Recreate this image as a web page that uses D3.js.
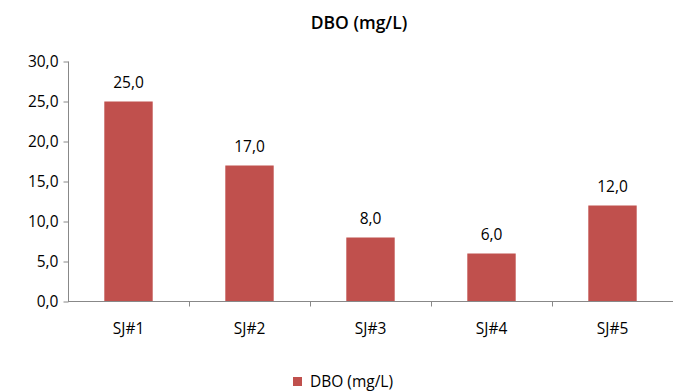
<!DOCTYPE html>
<html><head><meta charset="utf-8">
<script src="https://cdn.jsdelivr.net/npm/d3@7"></script>
<style>body{margin:0;background:#fff}svg{display:block}text{font-family:"Open Sans","Liberation Sans",sans-serif}</style>
</head><body>
<svg id="c" width="673" height="392"></svg>
<script>
const categories = ["SJ#1","SJ#2","SJ#3","SJ#4","SJ#5"];
const values = [25.0, 17.0, 8.0, 6.0, 12.0];
const yTicks = [0,5,10,15,20,25,30];
const seriesName = "DBO (mg/L)";
const title = "DBO (mg/L)";

const svg = d3.select("#c");
const fmt = v => d3.format(".1f")(v).replace(".", ",");
const x = d3.scaleBand().domain(categories).range([68, 673]).paddingInner(0.6).paddingOuter(0.3);
const y = d3.scaleLinear().domain([0,30]).range([301.5, 61.5]);
const color = "#C0504D";
const fs = 15.5;

svg.append("text").attr("x", 359).attr("y", 29).attr("text-anchor","middle")
  .attr("font-size", 17.5).attr("font-weight","600").attr("fill","#000").text(title);

const yAxis = svg.append("g").attr("transform","translate(68.5,0)")
  .call(d3.axisLeft(y).tickValues(yTicks).tickSize(5).tickFormat(fmt));
yAxis.select(".domain").attr("stroke","#888").attr("d","M0,61.5V301.5");
yAxis.selectAll(".tick line").attr("stroke","#888");
yAxis.selectAll(".tick text").attr("font-size",fs).attr("fill","#000").attr("x",-10).attr("dy","0.34em");

svg.selectAll("rect.bar").data(values).join("rect").attr("class","bar")
  .attr("x",(d,i)=>x(categories[i])).attr("width",x.bandwidth())
  .attr("y",d=>y(d)).attr("height",d=>y(0)-y(d)).attr("fill",color);

svg.selectAll("text.val").data(values).join("text").attr("class","val")
  .attr("x",(d,i)=>x(categories[i])+x.bandwidth()/2).attr("y",d=>y(d)-14)
  .attr("text-anchor","middle").attr("font-size",fs).attr("fill","#000").text(fmt);

// category axis
const step = x.step();
const xg = svg.append("g");
xg.append("line").attr("x1",68).attr("x2",673).attr("y1",301.5).attr("y2",301.5).attr("stroke","#888");
const bounds = d3.range(1, categories.length).map(i => 68 + i*step);
xg.selectAll("line.tk").data(bounds).join("line").attr("class","tk")
  .attr("x1",d=>Math.round(d)+0.5).attr("x2",d=>Math.round(d)+0.5).attr("y1",301.5).attr("y2",306.5).attr("stroke","#888");
xg.selectAll("text").data(categories).join("text")
  .attr("x",d=>x(d)+x.bandwidth()/2).attr("y",334).attr("text-anchor","middle")
  .attr("font-size",fs).attr("fill","#000").text(d=>d);

// legend
svg.append("rect").attr("x",293).attr("y",377).attr("width",9).attr("height",9).attr("fill",color);
svg.append("text").attr("x",310).attr("y",387).attr("font-size",fs).attr("fill","#000").text(seriesName);
</script>
</body></html>
